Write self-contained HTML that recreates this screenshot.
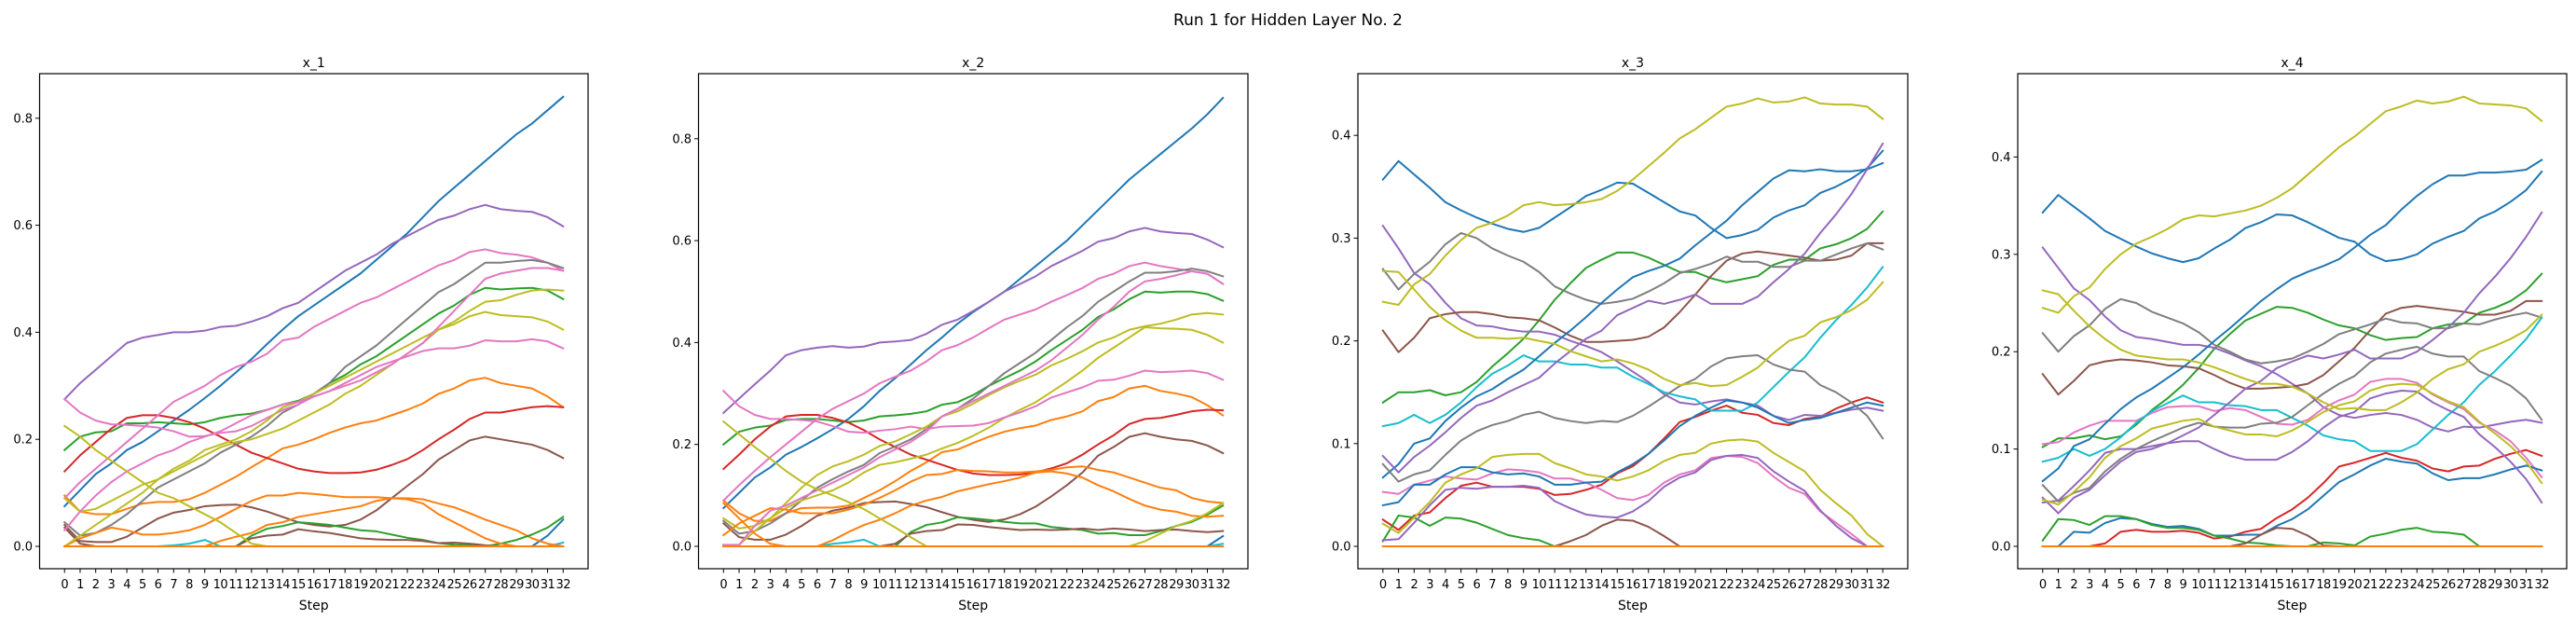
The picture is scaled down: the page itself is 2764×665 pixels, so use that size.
<!DOCTYPE html>
<html><head><meta charset="utf-8"><style>
html,body{margin:0;padding:0;background:#fff;}
svg{display:block;font-family:"DejaVu Sans","Liberation Sans",sans-serif;}
</style></head><body>
<svg id="fig" width="2764" height="665" viewBox="0 0 2764 665" xmlns="http://www.w3.org/2000/svg">
<rect width="2764" height="665" fill="#fff"/>
<text x="1382" y="27" text-anchor="middle" font-size="17">Run 1 for Hidden Layer No. 2</text>
</svg>
<script>
const steps = Array.from({length:33},(_,i)=>i);
const Z = new Array(33).fill(0);
const C = {blue:'#1f77b4',orange:'#ff7f0e',green:'#2ca02c',red:'#d62728',purple:'#9467bd',brown:'#8c564b',pink:'#e377c2',gray:'#7f7f7f',olive:'#bcbd22',cyan:'#17becf'};

// ---------- x_1 ----------
const p1Blue=[0.075,0.105,0.135,0.155,0.18,0.195,0.215,0.235,0.255,0.277,0.3,0.325,0.35,0.378,0.405,0.43,0.45,0.47,0.49,0.51,0.535,0.56,0.585,0.615,0.645,0.67,0.695,0.72,0.745,0.77,0.79,0.815,0.84];
const p1Purple=[0.275,0.305,0.33,0.355,0.38,0.39,0.395,0.4,0.4,0.403,0.41,0.412,0.42,0.43,0.445,0.455,0.475,0.495,0.515,0.53,0.545,0.565,0.58,0.595,0.61,0.618,0.63,0.638,0.63,0.627,0.625,0.615,0.598];
const p1PinkA=[0.09,0.12,0.145,0.17,0.195,0.22,0.245,0.27,0.285,0.3,0.32,0.335,0.345,0.36,0.385,0.39,0.41,0.425,0.44,0.455,0.465,0.48,0.495,0.51,0.525,0.535,0.55,0.555,0.548,0.545,0.54,0.53,0.515];
const p1PinkB=[0.275,0.25,0.235,0.228,0.227,0.225,0.222,0.215,0.205,0.206,0.212,0.215,0.225,0.24,0.255,0.265,0.28,0.29,0.305,0.32,0.335,0.345,0.355,0.365,0.37,0.37,0.375,0.385,0.383,0.383,0.387,0.383,0.37];
const p1PinkC=[0.03,0.065,0.095,0.12,0.14,0.155,0.17,0.18,0.195,0.205,0.215,0.23,0.245,0.255,0.265,0.27,0.28,0.29,0.3,0.31,0.325,0.34,0.36,0.38,0.41,0.44,0.47,0.5,0.51,0.515,0.52,0.52,0.515];
const p1Gray=[0.045,0.02,0.025,0.04,0.06,0.085,0.11,0.125,0.14,0.155,0.175,0.19,0.205,0.225,0.25,0.265,0.285,0.305,0.335,0.355,0.375,0.4,0.425,0.45,0.475,0.49,0.51,0.53,0.53,0.533,0.535,0.53,0.52];
const p1Green=[0.18,0.205,0.213,0.215,0.23,0.23,0.232,0.23,0.228,0.232,0.24,0.245,0.248,0.255,0.265,0.272,0.285,0.305,0.32,0.34,0.355,0.375,0.395,0.415,0.435,0.45,0.47,0.483,0.48,0.482,0.483,0.478,0.462];
const p1OliveA=[0.09,0.065,0.07,0.085,0.1,0.115,0.125,0.14,0.155,0.17,0.185,0.195,0.2,0.21,0.22,0.235,0.25,0.265,0.285,0.3,0.32,0.34,0.36,0.38,0.405,0.415,0.43,0.438,0.432,0.43,0.428,0.42,0.405];
const p1OliveB=[0,0.02,0.04,0.06,0.08,0.1,0.125,0.145,0.16,0.18,0.19,0.2,0.215,0.235,0.26,0.27,0.285,0.3,0.315,0.33,0.345,0.36,0.375,0.39,0.405,0.42,0.44,0.457,0.46,0.47,0.478,0.48,0.478];
const p1OliveC=[0.225,0.205,0.18,0.16,0.14,0.12,0.1,0.09,0.075,0.06,0.045,0.025,0.005,0,0,0,0,0,0,0,0,0,0,0,0,0,0,0,0,0,0,0,0];
const p1Red=[0.14,0.17,0.195,0.22,0.24,0.245,0.245,0.24,0.232,0.22,0.205,0.19,0.175,0.165,0.155,0.145,0.14,0.137,0.137,0.138,0.143,0.152,0.163,0.18,0.2,0.218,0.238,0.25,0.25,0.255,0.26,0.262,0.26];
const p1OrangeA=[0.095,0.065,0.06,0.06,0.07,0.08,0.083,0.083,0.088,0.1,0.115,0.13,0.148,0.165,0.183,0.19,0.2,0.212,0.222,0.23,0.235,0.245,0.255,0.267,0.285,0.295,0.31,0.315,0.305,0.3,0.295,0.28,0.26];
const p1OrangeB=[0,0.015,0.025,0.035,0.03,0.022,0.022,0.025,0.03,0.04,0.055,0.07,0.085,0.095,0.095,0.1,0.098,0.095,0.092,0.092,0.092,0.09,0.09,0.088,0.08,0.073,0.062,0.05,0.04,0.03,0.015,0.005,0];
const p1OrangeC=[0,0,0,0,0,0,0,0,0,0,0.01,0.018,0.025,0.04,0.045,0.055,0.06,0.065,0.07,0.075,0.085,0.09,0.088,0.08,0.06,0.045,0.03,0.015,0.005,0,0,0,0];
const p1BrownA=[0.04,0.01,0.008,0.008,0.018,0.035,0.052,0.063,0.068,0.075,0.077,0.078,0.073,0.065,0.055,0.045,0.04,0.037,0.04,0.05,0.067,0.09,0.113,0.135,0.162,0.18,0.198,0.205,0.2,0.195,0.19,0.18,0.165];
const p1BrownB=[0.035,0.005,0,0,0,0,0,0,0,0,0,0,0.015,0.02,0.022,0.032,0.028,0.025,0.02,0.015,0.013,0.012,0.012,0.01,0.006,0.007,0.005,0.002,0,0,0,0,0];
const p1GreenB=[0,0,0,0,0,0,0,0,0,0,0,0,0.02,0.033,0.038,0.045,0.043,0.04,0.035,0.03,0.028,0.022,0.016,0.012,0.006,0.003,0.002,0,0.005,0.012,0.022,0.035,0.055];
const p1BlueB=[0,0,0,0,0,0,0,0,0,0,0,0,0,0,0,0,0,0,0,0,0,0,0,0,0,0,0,0,0,0,0,0.02,0.05];
const p1Cyan=[0,0,0,0,0,0,0,0.002,0.005,0.012,0,0,0,0,0,0,0,0,0,0,0,0,0,0,0,0,0,0,0,0,0,0,0.007];

// ---------- x_2 ----------
const p2Blue=[0.075,0.105,0.135,0.155,0.18,0.195,0.212,0.23,0.25,0.275,0.305,0.33,0.357,0.385,0.41,0.437,0.46,0.48,0.5,0.525,0.55,0.575,0.6,0.63,0.66,0.69,0.72,0.745,0.77,0.795,0.82,0.848,0.88];
const p2Purple=[0.262,0.29,0.318,0.345,0.375,0.385,0.39,0.393,0.39,0.392,0.4,0.402,0.405,0.417,0.435,0.445,0.462,0.48,0.5,0.515,0.53,0.55,0.565,0.58,0.598,0.605,0.618,0.625,0.618,0.615,0.613,0.602,0.587];
const p2PinkA=[0.09,0.12,0.148,0.175,0.2,0.225,0.25,0.27,0.285,0.3,0.32,0.333,0.345,0.363,0.385,0.395,0.41,0.428,0.445,0.455,0.465,0.48,0.493,0.507,0.525,0.535,0.55,0.557,0.55,0.545,0.54,0.535,0.515];
const p2PinkB=[0.305,0.275,0.258,0.25,0.25,0.248,0.245,0.236,0.225,0.223,0.227,0.23,0.235,0.23,0.235,0.236,0.237,0.242,0.253,0.263,0.275,0.292,0.302,0.312,0.325,0.327,0.335,0.345,0.342,0.343,0.345,0.34,0.327];
const p2PinkC=[0.003,0.003,0.04,0.07,0.08,0.095,0.11,0.125,0.14,0.155,0.175,0.19,0.205,0.225,0.255,0.27,0.285,0.3,0.315,0.33,0.345,0.365,0.39,0.415,0.445,0.47,0.5,0.52,0.525,0.532,0.54,0.535,0.515];
const p2Gray=[0.05,0.025,0.03,0.045,0.065,0.09,0.115,0.132,0.147,0.16,0.183,0.196,0.21,0.23,0.255,0.27,0.29,0.315,0.34,0.36,0.38,0.405,0.43,0.452,0.48,0.5,0.52,0.537,0.537,0.54,0.545,0.54,0.53];
const p2Green=[0.2,0.225,0.233,0.237,0.248,0.25,0.25,0.247,0.244,0.247,0.255,0.257,0.26,0.265,0.278,0.283,0.297,0.315,0.33,0.345,0.363,0.385,0.405,0.425,0.45,0.465,0.485,0.5,0.498,0.5,0.5,0.495,0.482];
const p2OliveA=[0.055,0.035,0.04,0.055,0.075,0.09,0.1,0.11,0.125,0.145,0.16,0.165,0.172,0.18,0.192,0.203,0.217,0.233,0.252,0.268,0.283,0.303,0.323,0.345,0.37,0.39,0.41,0.43,0.428,0.427,0.425,0.415,0.4];
const p2OliveB=[0,0.003,0.03,0.055,0.085,0.115,0.14,0.157,0.167,0.18,0.197,0.206,0.22,0.235,0.255,0.265,0.28,0.297,0.312,0.325,0.337,0.355,0.368,0.383,0.4,0.41,0.425,0.432,0.437,0.445,0.455,0.458,0.455];
const p2OliveC=[0.245,0.22,0.195,0.172,0.148,0.127,0.112,0.1,0.087,0.073,0.055,0.037,0.018,0,0,0,0,0,0,0,0,0,0,0,0,0,0,0.01,0.025,0.04,0.05,0.065,0.085];
const p2Red=[0.152,0.18,0.21,0.235,0.255,0.258,0.258,0.252,0.243,0.228,0.21,0.195,0.18,0.17,0.16,0.15,0.143,0.14,0.14,0.141,0.145,0.153,0.163,0.18,0.2,0.218,0.24,0.25,0.252,0.258,0.265,0.268,0.267];
const p2OrangeA=[0.09,0.065,0.05,0.05,0.065,0.075,0.076,0.076,0.08,0.095,0.11,0.128,0.148,0.165,0.185,0.19,0.203,0.215,0.225,0.232,0.237,0.248,0.255,0.265,0.285,0.293,0.31,0.315,0.305,0.3,0.293,0.277,0.257];
const p2OrangeB=[0.022,0.045,0.06,0.075,0.072,0.065,0.065,0.065,0.072,0.082,0.095,0.11,0.127,0.14,0.142,0.15,0.148,0.147,0.145,0.145,0.147,0.15,0.155,0.157,0.15,0.145,0.135,0.125,0.115,0.11,0.095,0.088,0.085];
const p2OrangeC=[0.085,0.055,0.025,0.005,0,0,0,0.012,0.028,0.042,0.052,0.065,0.08,0.09,0.097,0.108,0.115,0.122,0.128,0.135,0.145,0.147,0.143,0.135,0.12,0.108,0.093,0.08,0.072,0.068,0.06,0.058,0.06];
const p2BrownA=[0.045,0.018,0.013,0.013,0.023,0.04,0.06,0.07,0.076,0.085,0.087,0.088,0.083,0.077,0.067,0.058,0.052,0.048,0.053,0.063,0.078,0.098,0.12,0.145,0.178,0.195,0.215,0.222,0.215,0.21,0.207,0.198,0.183];
const p2BrownB=[0,0,0,0,0,0,0,0,0,0,0,0.005,0.025,0.03,0.032,0.043,0.042,0.038,0.035,0.032,0.033,0.032,0.033,0.035,0.032,0.035,0.033,0.03,0.032,0.033,0.03,0.028,0.03];
const p2GreenB=[0,0,0,0,0,0,0,0,0,0,0,0,0.028,0.042,0.047,0.057,0.055,0.052,0.048,0.045,0.045,0.038,0.035,0.032,0.025,0.026,0.022,0.022,0.03,0.04,0.048,0.062,0.08];
const p2BlueB=[0,0,0,0,0,0,0,0,0,0,0,0,0,0,0,0,0,0,0,0,0,0,0,0,0,0,0,0,0,0,0,0,0.02];
const p2Cyan=[0.003,0,0,0,0,0,0,0.005,0.008,0.013,0,0,0,0,0,0,0,0,0,0,0,0,0,0,0,0,0,0,0,0,0,0,0.005];

// ---------- x_3 ----------
const p3BlueA=[0.357,0.375,0.362,0.349,0.335,0.327,0.32,0.314,0.309,0.306,0.31,0.32,0.33,0.341,0.347,0.354,0.353,0.344,0.335,0.326,0.322,0.31,0.3,0.303,0.308,0.32,0.327,0.332,0.344,0.35,0.358,0.368,0.385];
const p3BlueB=[0.067,0.08,0.1,0.105,0.122,0.135,0.146,0.153,0.163,0.172,0.185,0.198,0.21,0.223,0.237,0.25,0.262,0.268,0.273,0.28,0.293,0.305,0.317,0.332,0.345,0.358,0.366,0.365,0.367,0.365,0.365,0.367,0.373];
const p3BlueC=[0.04,0.043,0.06,0.06,0.07,0.077,0.077,0.072,0.07,0.071,0.068,0.06,0.06,0.062,0.063,0.072,0.08,0.09,0.103,0.117,0.127,0.135,0.142,0.14,0.135,0.127,0.12,0.123,0.125,0.13,0.135,0.14,0.137];
const p3OliveA=[0.238,0.235,0.255,0.265,0.283,0.298,0.31,0.315,0.322,0.332,0.335,0.332,0.333,0.335,0.338,0.346,0.357,0.37,0.383,0.397,0.406,0.417,0.428,0.431,0.436,0.432,0.433,0.437,0.431,0.43,0.43,0.428,0.416];
const p3OliveB=[0.268,0.267,0.25,0.233,0.22,0.21,0.203,0.203,0.202,0.203,0.2,0.197,0.19,0.185,0.18,0.182,0.178,0.172,0.163,0.157,0.159,0.156,0.157,0.165,0.174,0.188,0.2,0.205,0.218,0.223,0.23,0.24,0.257];
const p3OliveC=[0.022,0.013,0.028,0.043,0.062,0.07,0.076,0.087,0.089,0.09,0.09,0.081,0.076,0.07,0.068,0.064,0.068,0.074,0.083,0.089,0.091,0.1,0.103,0.104,0.102,0.091,0.082,0.073,0.055,0.042,0.03,0.012,0];
const p3GrayA=[0.27,0.25,0.265,0.277,0.294,0.305,0.3,0.29,0.283,0.277,0.267,0.253,0.246,0.24,0.236,0.238,0.241,0.248,0.256,0.266,0.27,0.275,0.282,0.277,0.277,0.272,0.272,0.278,0.278,0.284,0.29,0.295,0.289];
const p3GrayB=[0.08,0.063,0.07,0.074,0.089,0.103,0.112,0.118,0.122,0.128,0.131,0.125,0.122,0.12,0.122,0.121,0.127,0.136,0.146,0.156,0.163,0.175,0.183,0.185,0.186,0.177,0.172,0.17,0.157,0.15,0.14,0.127,0.105];
const p3GreenA=[0.14,0.15,0.15,0.152,0.147,0.15,0.16,0.175,0.188,0.202,0.22,0.24,0.256,0.271,0.279,0.286,0.286,0.281,0.274,0.267,0.267,0.261,0.257,0.26,0.263,0.274,0.279,0.279,0.29,0.294,0.3,0.309,0.326];
const p3GreenB=[0.005,0.03,0.028,0.02,0.028,0.027,0.023,0.017,0.011,0.008,0.006,0,0,0,0,0,0,0,0,0,0,0,0,0,0,0,0,0,0,0,0,0,0];
const p3PurpleA=[0.312,0.29,0.266,0.255,0.237,0.222,0.215,0.214,0.211,0.209,0.209,0.206,0.2,0.195,0.189,0.18,0.17,0.16,0.148,0.14,0.138,0.141,0.143,0.14,0.137,0.127,0.123,0.128,0.127,0.13,0.133,0.135,0.132];
const p3PurpleB=[0.088,0.072,0.087,0.098,0.111,0.125,0.137,0.142,0.15,0.157,0.164,0.178,0.19,0.202,0.21,0.225,0.232,0.239,0.236,0.24,0.245,0.236,0.236,0.236,0.243,0.257,0.27,0.285,0.305,0.323,0.343,0.367,0.392];
const p3PurpleC=[0.006,0.007,0.023,0.04,0.055,0.057,0.056,0.058,0.058,0.059,0.057,0.044,0.037,0.031,0.029,0.028,0.034,0.044,0.058,0.067,0.072,0.084,0.088,0.089,0.086,0.073,0.063,0.054,0.035,0.02,0.008,0,0];
const p3Pink=[0.053,0.051,0.06,0.064,0.068,0.066,0.065,0.071,0.075,0.074,0.072,0.066,0.066,0.062,0.055,0.047,0.045,0.05,0.062,0.07,0.074,0.086,0.088,0.087,0.081,0.068,0.057,0.051,0.034,0.023,0.012,0,0];
const p3Red=[0.026,0.016,0.03,0.033,0.047,0.059,0.062,0.058,0.058,0.058,0.056,0.05,0.051,0.055,0.06,0.071,0.078,0.09,0.105,0.121,0.126,0.132,0.137,0.13,0.128,0.12,0.118,0.124,0.126,0.134,0.14,0.145,0.14];
const p3BrownA=[0.21,0.189,0.203,0.222,0.226,0.228,0.228,0.226,0.223,0.222,0.22,0.213,0.205,0.199,0.199,0.2,0.201,0.204,0.213,0.228,0.245,0.263,0.278,0.285,0.287,0.285,0.283,0.281,0.278,0.279,0.283,0.295,0.295];
const p3BrownB=[0,0,0,0,0,0,0,0,0,0,0,0,0.005,0.011,0.02,0.026,0.025,0.019,0.01,0,0,0,0,0,0,0,0,0,0,0,0,0,0];
const p3Cyan=[0.117,0.12,0.128,0.12,0.128,0.14,0.155,0.168,0.176,0.186,0.18,0.18,0.177,0.177,0.174,0.174,0.165,0.158,0.15,0.146,0.143,0.132,0.132,0.132,0.14,0.155,0.17,0.184,0.203,0.22,0.235,0.252,0.272];

// ---------- x_4 ----------
const p4OliveA=[0.245,0.24,0.257,0.266,0.285,0.3,0.311,0.318,0.326,0.336,0.34,0.339,0.342,0.345,0.35,0.358,0.368,0.382,0.396,0.41,0.421,0.434,0.447,0.452,0.458,0.455,0.457,0.462,0.455,0.454,0.453,0.45,0.437];
const p4BlueA=[0.343,0.361,0.349,0.337,0.324,0.316,0.308,0.301,0.296,0.292,0.296,0.306,0.315,0.327,0.333,0.341,0.34,0.333,0.325,0.317,0.313,0.3,0.293,0.295,0.3,0.311,0.318,0.324,0.337,0.344,0.354,0.366,0.385];
const p4BlueB=[0.067,0.08,0.103,0.11,0.126,0.141,0.153,0.162,0.173,0.184,0.197,0.211,0.224,0.238,0.252,0.264,0.275,0.282,0.288,0.295,0.307,0.32,0.33,0.346,0.36,0.372,0.381,0.381,0.384,0.384,0.385,0.387,0.397];
const p4BlueC=[0,0,0.015,0.014,0.024,0.029,0.028,0.023,0.02,0.021,0.018,0.011,0.011,0.012,0.012,0.021,0.028,0.038,0.052,0.066,0.074,0.083,0.09,0.087,0.085,0.075,0.068,0.07,0.07,0.074,0.079,0.083,0.078];
const p4Red=[0,0,0,0,0.003,0.015,0.017,0.015,0.015,0.016,0.014,0.008,0.01,0.015,0.018,0.029,0.038,0.05,0.065,0.082,0.086,0.091,0.096,0.091,0.088,0.08,0.077,0.082,0.083,0.09,0.095,0.099,0.093];
const p4GreenA=[0.102,0.111,0.111,0.114,0.11,0.113,0.125,0.14,0.152,0.166,0.183,0.203,0.218,0.232,0.239,0.246,0.245,0.24,0.233,0.227,0.224,0.217,0.212,0.214,0.215,0.224,0.228,0.229,0.24,0.245,0.252,0.263,0.28];
const p4GreenB=[0.006,0.028,0.027,0.022,0.031,0.031,0.028,0.022,0.019,0.019,0.017,0.011,0.008,0.004,0.003,0.001,0,0,0.004,0.003,0.001,0.01,0.013,0.017,0.019,0.015,0.014,0.012,0,0,0,0,0];
const p4PurpleA=[0.307,0.286,0.265,0.253,0.236,0.222,0.215,0.213,0.21,0.207,0.207,0.204,0.198,0.191,0.185,0.177,0.167,0.157,0.143,0.135,0.132,0.135,0.137,0.135,0.13,0.122,0.118,0.123,0.122,0.125,0.128,0.13,0.127];
const p4PurpleB=[0.045,0.047,0.062,0.078,0.096,0.1,0.1,0.103,0.106,0.108,0.108,0.1,0.093,0.089,0.089,0.089,0.097,0.108,0.122,0.133,0.138,0.152,0.157,0.16,0.159,0.148,0.14,0.133,0.115,0.102,0.087,0.069,0.045];
const p4PurpleC=[0.05,0.034,0.05,0.058,0.073,0.087,0.097,0.1,0.106,0.114,0.122,0.135,0.148,0.162,0.17,0.183,0.19,0.196,0.193,0.197,0.202,0.193,0.193,0.193,0.2,0.212,0.225,0.24,0.26,0.277,0.296,0.318,0.343];
const p4GrayA=[0.219,0.2,0.216,0.227,0.244,0.254,0.25,0.241,0.235,0.229,0.22,0.207,0.2,0.192,0.188,0.19,0.193,0.2,0.208,0.218,0.223,0.228,0.234,0.23,0.229,0.224,0.224,0.229,0.228,0.233,0.237,0.24,0.235];
const p4GrayB=[0.063,0.046,0.055,0.06,0.077,0.09,0.1,0.108,0.115,0.122,0.127,0.123,0.122,0.122,0.126,0.127,0.133,0.145,0.157,0.167,0.175,0.189,0.198,0.202,0.205,0.198,0.195,0.195,0.18,0.173,0.165,0.152,0.13];
const p4OliveB=[0.263,0.259,0.242,0.226,0.213,0.202,0.196,0.194,0.192,0.192,0.189,0.184,0.178,0.172,0.167,0.167,0.164,0.157,0.148,0.141,0.142,0.14,0.14,0.148,0.158,0.172,0.182,0.187,0.2,0.206,0.213,0.222,0.238];
const p4OliveC=[0.048,0.043,0.056,0.071,0.091,0.103,0.111,0.121,0.125,0.129,0.131,0.123,0.119,0.115,0.115,0.113,0.119,0.128,0.138,0.145,0.149,0.16,0.165,0.167,0.166,0.157,0.149,0.143,0.128,0.116,0.103,0.087,0.065];
const p4Pink=[0.105,0.107,0.117,0.124,0.129,0.129,0.129,0.137,0.143,0.144,0.144,0.139,0.142,0.14,0.133,0.126,0.125,0.13,0.142,0.15,0.156,0.169,0.172,0.172,0.168,0.156,0.148,0.141,0.127,0.119,0.108,0.091,0.071];
const p4BrownA=[0.177,0.156,0.17,0.186,0.19,0.192,0.191,0.189,0.186,0.185,0.183,0.176,0.168,0.162,0.162,0.163,0.164,0.167,0.176,0.19,0.204,0.222,0.239,0.245,0.247,0.245,0.243,0.241,0.238,0.238,0.242,0.252,0.252];
const p4BrownB=[0,0,0,0,0,0,0,0,0,0,0,0,0,0.003,0.012,0.019,0.018,0.011,0.001,0,0,0,0,0,0,0,0,0,0,0,0,0,0];
const p4Cyan=[0.087,0.091,0.1,0.093,0.1,0.112,0.127,0.139,0.147,0.155,0.148,0.148,0.145,0.144,0.14,0.14,0.132,0.124,0.114,0.11,0.108,0.098,0.098,0.098,0.105,0.12,0.135,0.148,0.166,0.18,0.196,0.213,0.235];

const yTicks12=[0,0.2,0.4,0.6,0.8];
const yTicks34=[0,0.1,0.2,0.3,0.4];

const panels=[
 {title:'x_1',left:42.5,right:631,y0:586,k:574,ticks:yTicks12,
  series:[[p1Blue,'blue'],[p1OrangeA,'orange'],[p1Green,'green'],[p1Red,'red'],[p1Purple,'purple'],[p1BrownA,'brown'],[p1PinkA,'pink'],[p1Gray,'gray'],[p1OliveA,'olive'],[p1Cyan,'cyan'],[p1BlueB,'blue'],[p1OrangeB,'orange'],[p1GreenB,'green'],[p1BrownB,'brown'],[p1PinkB,'pink'],[p1OliveB,'olive'],[p1OrangeC,'orange'],[p1PinkC,'pink'],[p1OliveC,'olive'],[Z,'orange']]},
 {title:'x_2',left:749.5,right:1339,y0:586,k:546.5,ticks:yTicks12,
  series:[[p2Blue,'blue'],[p2OrangeA,'orange'],[p2Green,'green'],[p2Red,'red'],[p2Purple,'purple'],[p2BrownA,'brown'],[p2PinkA,'pink'],[p2Gray,'gray'],[p2OliveA,'olive'],[p2Cyan,'cyan'],[p2BlueB,'blue'],[p2OrangeB,'orange'],[p2GreenB,'green'],[p2BrownB,'brown'],[p2PinkB,'pink'],[p2OliveB,'olive'],[p2OrangeC,'orange'],[p2PinkC,'pink'],[p2OliveC,'olive'],[Z,'orange']]},
 {title:'x_3',left:1457,right:2047,y0:586,k:1102,ticks:yTicks34,
  series:[[p3BlueA,'blue'],[p3GreenA,'green'],[p3Red,'red'],[p3PurpleA,'purple'],[p3BrownA,'brown'],[p3Pink,'pink'],[p3GrayA,'gray'],[p3OliveA,'olive'],[p3Cyan,'cyan'],[p3BlueB,'blue'],[p3BlueC,'blue'],[p3GreenB,'green'],[p3PurpleB,'purple'],[p3PurpleC,'purple'],[p3BrownB,'brown'],[p3GrayB,'gray'],[p3OliveB,'olive'],[p3OliveC,'olive'],[Z,'orange']]},
 {title:'x_4',left:2165,right:2754,y0:586,k:1044,ticks:yTicks34,
  series:[[p4BlueA,'blue'],[p4GreenA,'green'],[p4Red,'red'],[p4PurpleA,'purple'],[p4BrownA,'brown'],[p4Pink,'pink'],[p4GrayA,'gray'],[p4OliveA,'olive'],[p4Cyan,'cyan'],[p4BlueB,'blue'],[p4BlueC,'blue'],[p4GreenB,'green'],[p4PurpleB,'purple'],[p4PurpleC,'purple'],[p4BrownB,'brown'],[p4GrayB,'gray'],[p4OliveB,'olive'],[p4OliveC,'olive'],[Z,'orange']]}
];

const NS='http://www.w3.org/2000/svg';
const svg=document.getElementById('fig');
function mk(tag,attrs,parent){const e=document.createElementNS(NS,tag);for(const a in attrs)e.setAttribute(a,attrs[a]);(parent||svg).appendChild(e);return e;}
const TOP=79,BOT=610;
panels.forEach((p,pi)=>{
  const g=mk('g',{});
  
  
  const w=p.right-p.left, pad=1.6, xs=w/(32+2*pad);
  const X=v=>p.left+(v+pad)*xs;
  const Y=v=>p.y0-v*p.k;
  // lines
  p.series.forEach((s,si)=>{
    const d=s[0].map((v,i)=>(i?'L':'M')+X(steps[i]).toFixed(2)+' '+Y(v).toFixed(2)).join(' ');
    const path=mk('path',{d:d,fill:'none',stroke:C[s[1]],'stroke-width':2,'stroke-linejoin':'round','stroke-linecap':'square'},g);
    
    
  });
  // frame
  const fr=mk('rect',{x:p.left,y:TOP,width:w,height:BOT-TOP,fill:'none',stroke:'#000','stroke-width':1.2},g);
  
  
  // y ticks
  p.ticks.forEach(t=>{
    const y=Y(t);
    mk('line',{x1:p.left-4.5,x2:p.left,y1:y,y2:y,stroke:'#000','stroke-width':1},g);
    const tx=mk('text',{x:p.left-7.5,y:y+4.5,'text-anchor':'end','font-size':13},g);
    tx.textContent=t.toFixed(1);
    
    
  });
  // x ticks
  steps.forEach(s=>{
    const x=X(s);
    mk('line',{x1:x,x2:x,y1:BOT,y2:BOT+4.5,stroke:'#000','stroke-width':1},g);
    const tx=mk('text',{x:x,y:BOT+21,'text-anchor':'middle','font-size':13,'letter-spacing':'-0.5'},g);
    tx.textContent=String(s);
    
    
  });
  const title=mk('text',{x:p.left+w/2,y:72,'text-anchor':'middle','font-size':14},g);
  title.textContent=p.title;
  
  
  const xl=mk('text',{x:p.left+w/2,y:654,'text-anchor':'middle','font-size':14},g);
  xl.textContent='Step';
  
  
});
</script>
</body></html>
